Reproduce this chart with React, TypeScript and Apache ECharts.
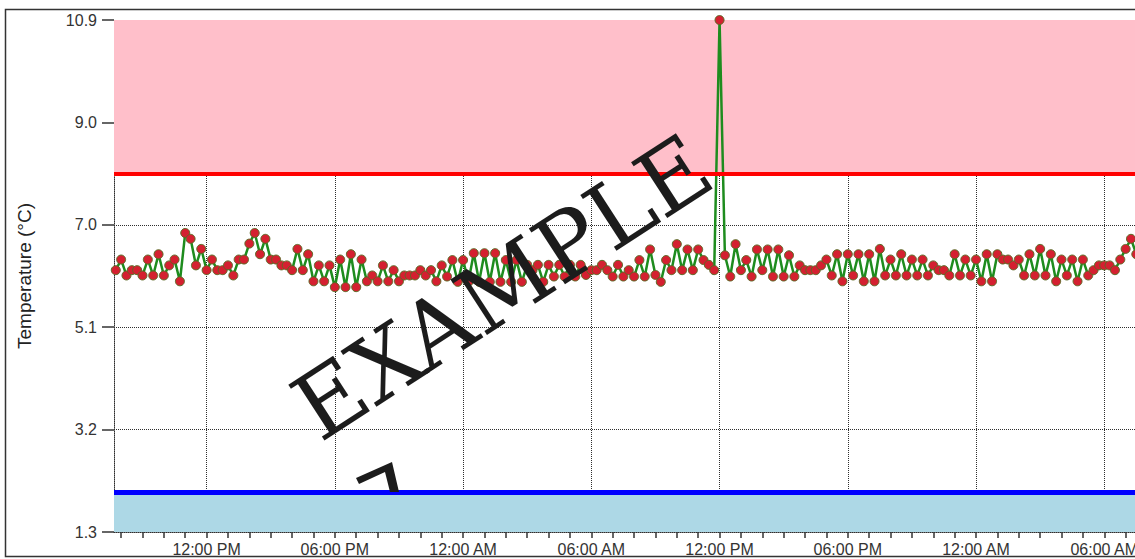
import React, { useEffect, useRef } from "react";
import * as echarts from "echarts";

// Time axis expressed in hours since 00:00 of day 1
const X_MIN_HOURS = 7 + 40 / 60; // 07:40 AM day 1
const X_MAX_HOURS = 56; // 08:00 AM day 3
const START_HOUR = 7.75; // first reading 07:45 AM
const STEP_HOURS = 0.25; // one reading every 15 min

const temperatures = [
  6.19, 6.39, 6.09, 6.19, 6.19, 6.09, 6.39, 6.09, 6.49, 6.09,
  6.28, 6.39, 5.98, 6.89, 6.78, 6.28, 6.59, 6.19, 6.39, 6.19,
  6.19, 6.28, 6.09, 6.39, 6.39, 6.69, 6.89, 6.49, 6.78, 6.39,
  6.39, 6.28, 6.28, 6.19, 6.59, 6.19, 6.49, 5.98, 6.28, 5.98,
  6.28, 5.87, 6.39, 5.87, 6.49, 5.87, 6.39, 5.98, 6.09, 5.98,
  6.28, 5.98, 6.19, 5.98, 6.09, 6.09, 6.09, 6.19, 6.09, 6.19,
  5.98, 6.28, 6.07, 6.38, 5.97, 6.38, 5.97, 6.51, 5.97, 6.51,
  5.97, 6.51, 5.97, 6.38, 5.97, 6.38, 5.97, 6.29, 6.19, 6.29,
  5.97, 6.29, 6.07, 6.29, 6.07, 6.29, 6.07, 6.29, 6.10, 6.19,
  6.19, 6.29, 6.19, 6.07, 6.29, 6.07, 6.19, 6.07, 6.38, 6.07,
  6.58, 6.10, 5.97, 6.38, 6.19, 6.68, 6.19, 6.58, 6.19, 6.58,
  6.38, 6.29, 6.19, 10.9, 6.47, 6.07, 6.68, 6.19, 6.38, 6.07,
  6.58, 6.19, 6.58, 6.07, 6.58, 6.07, 6.47, 6.07, 6.28, 6.19,
  6.19, 6.19, 6.28, 6.39, 6.09, 6.49, 5.98, 6.49, 6.09, 6.49,
  5.98, 6.49, 5.98, 6.59, 6.09, 6.39, 6.09, 6.49, 6.09, 6.39,
  6.09, 6.39, 6.09, 6.28, 6.19, 6.19, 6.09, 6.49, 6.09, 6.39,
  6.09, 6.39, 5.98, 6.49, 5.98, 6.49, 6.39, 6.39, 6.28, 6.39,
  6.09, 6.49, 6.09, 6.59, 6.09, 6.49, 5.98, 6.39, 6.09, 6.39,
  5.98, 6.39, 6.09, 6.19, 6.28, 6.28, 6.28, 6.19, 6.39, 6.59,
  6.78, 6.49,
];

const Y_MIN = 1.26;
const Y_MAX = 10.9;
const yTickValues = [1.26, 3.188, 5.116, 7.044, 8.972, 10.9];
const hourTickValues = [
  8, 9, 10, 11, 12, 13, 14, 15, 16, 17, 18, 19, 20, 21, 22, 23, 24, 25, 26, 27,
  28, 29, 30, 31, 32, 33, 34, 35, 36, 37, 38, 39, 40, 41, 42, 43, 44, 45, 46,
  47, 48, 49, 50, 51, 52, 53, 54, 55,
];
const labelHours = [12, 18, 24, 30, 36, 42, 48, 54];
const HIGH_LIMIT = 8.0;
const LOW_LIMIT = 2.0;

const CHART_W = 1180;
const CHART_H = 559;

function hourLabel(v: number): string {
  const h = ((Math.round(v) % 24) + 24) % 24;
  const h12 = h % 12 === 0 ? 12 : h % 12;
  const hh = h12 < 10 ? "0" + h12 : String(h12);
  return hh + ":00 " + (h < 12 ? "AM" : "PM");
}

const SANS = "'Liberation Sans', Arial, sans-serif";

export default function App() {
  const ref = useRef<HTMLDivElement>(null);

  useEffect(() => {
    if (!ref.current) return;
    const chart = echarts.init(ref.current, undefined, { renderer: "svg" });
    const dotted = { color: "#2e2e2e", type: "dotted" as const, width: 1 };

    const option: any = {
      animation: false,
      backgroundColor: "#ffffff",
      grid: { left: 114, top: 20, right: CHART_W - 1147, bottom: 27 },
      xAxis: [
        {
          type: "value",
          min: X_MIN_HOURS,
          max: X_MAX_HOURS,
          axisLine: { show: true, lineStyle: dotted },
          axisTick: {
            show: true,
            customValues: hourTickValues,
            length: 6,
            lineStyle: { color: "#333", width: 1.5 },
          },
          axisLabel: {
            customValues: labelHours,
            formatter: (v: number) => hourLabel(v),
            margin: 9,
            fontSize: 16,
            color: "#333",
            fontFamily: SANS,
          },
          splitLine: { show: false },
        },
        {
          type: "value",
          min: X_MIN_HOURS,
          max: X_MAX_HOURS,
          position: "top",
          axisLine: { show: false },
          axisTick: { show: false, customValues: labelHours },
          axisLabel: { show: false, customValues: labelHours },
          splitLine: { show: true, lineStyle: dotted },
        },
      ],
      yAxis: {
        type: "value",
        min: Y_MIN,
        max: Y_MAX,
        name: "Temperature (°C)",
        nameLocation: "middle",
        nameGap: 80,
        nameTextStyle: { fontSize: 19, color: "#222", fontFamily: SANS },
        axisLine: { show: true, lineStyle: dotted },
        axisTick: {
          show: true,
          customValues: yTickValues,
          length: 12,
          lineStyle: { color: "#333", width: 1.5 },
        },
        axisLabel: {
          customValues: yTickValues,
          formatter: (v: number) => v.toFixed(1),
          margin: 17,
          fontSize: 16,
          color: "#333",
          fontFamily: SANS,
        },
        splitLine: { show: true, lineStyle: dotted },
      },
      series: [
        {
          type: "line",
          data: [],
          silent: true,
          markArea: {
            silent: true,
            data: [
              [
                { yAxis: HIGH_LIMIT, itemStyle: { color: "#ffbfca", opacity: 1 } },
                { yAxis: Y_MAX },
              ],
              [
                { yAxis: Y_MIN, itemStyle: { color: "#add8e6", opacity: 1 } },
                { yAxis: LOW_LIMIT },
              ],
            ],
          },
          markLine: {
            silent: true,
            symbol: "none",
            label: { show: false },
            data: [
              { yAxis: HIGH_LIMIT, lineStyle: { color: "#ff0000", width: 4, type: "solid" } },
              { yAxis: LOW_LIMIT, lineStyle: { color: "#0000ff", width: 5, type: "solid" } },
            ],
          },
        },
        {
          type: "line",
          z: 3,
          data: temperatures.map((t, i) => [START_HOUR + i * STEP_HOURS, t]),
          symbol: "circle",
          symbolSize: 9,
          showAllSymbol: true,
          lineStyle: { color: "#1e8c1e", width: 2.5 },
          itemStyle: { color: "#d42030", borderColor: "#5d6a26", borderWidth: 1 },
        },
      ],
      graphic: [
        {
          type: "rect",
          z: 200,
          shape: { x: 5.5, y: 9.5, width: 1400, height: 547 },
          style: { fill: "none", stroke: "#333", lineWidth: 1.5 },
        },
        {
          type: "text",
          z: 150,
          x: 502,
          y: 287,
          rotation: (33 * Math.PI) / 180,
          style: {
            text: "EXAMPLE",
            fontFamily: "'DejaVu Serif', 'Liberation Serif', serif",
            fontSize: 91,
            fill: "#1c1c1c",
            textAlign: "center",
            textVerticalAlign: "middle",
          },
        },
        {
          type: "polygon",
          z: 150,
          shape: {
            points: [
              [356, 478],
              [392, 462],
              [399, 492],
              [390, 492],
              [385, 472],
              [359, 484],
            ],
          },
          style: { fill: "#1c1c1c" },
        },
      ],
    };
    chart.setOption(option);
    return () => chart.dispose();
  }, []);

  return (
    <div
      style={{
        position: "fixed",
        left: 0,
        top: 0,
        width: 1135,
        height: 559,
        overflow: "hidden",
        background: "#fff",
      }}
    >
      <div ref={ref} style={{ width: CHART_W, height: CHART_H }} />
    </div>
  );
}
